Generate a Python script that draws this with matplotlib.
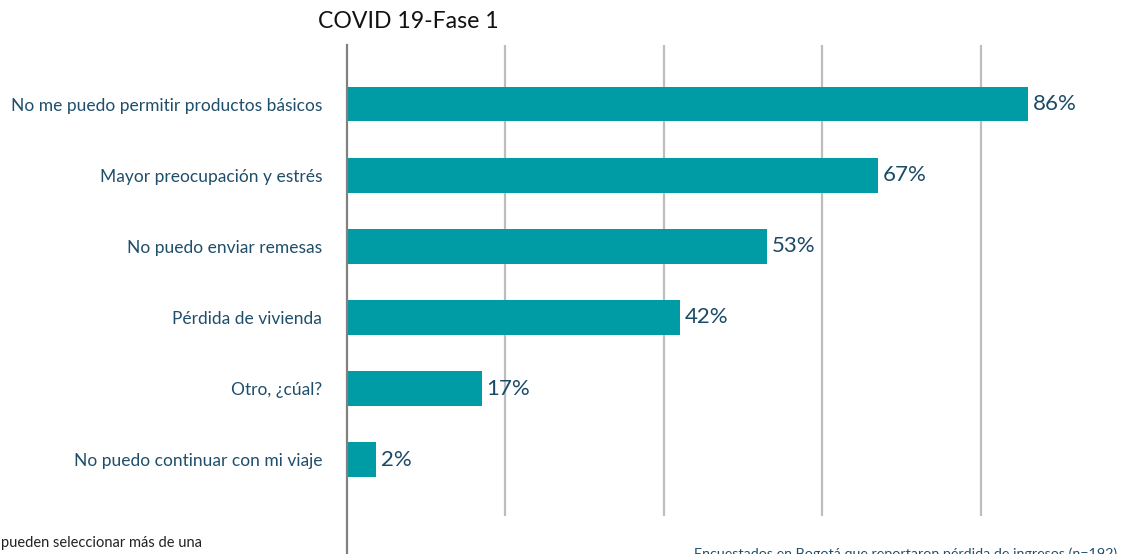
import matplotlib
matplotlib.use("Agg")
import matplotlib.pyplot as plt
from matplotlib.lines import Line2D

categories = ["No me puedo permitir productos básicos",
              "Mayor preocupación y estrés",
              "No puedo enviar remesas",
              "Pérdida de vivienda",
              "Otro, ¿cúal?",
              "No puedo continuar con mi viaje"]
values = [86, 67, 53, 42, 17, 3.7]
value_labels = ["86%", "67%", "53%", "42%", "17%", "2%"]
grid_ticks = [20, 40, 60, 80]

W, H = 1125, 554
fig = plt.figure(figsize=(W / 100, H / 100), dpi=100)
plt.rcParams['font.family'] = ['Lato', 'DejaVu Sans']

ax = fig.add_axes([347 / W, 1 - 516 / H, 792 / W, (516 - 45) / H])
ypos = list(range(len(categories)))
ax.barh(ypos, values, height=0.49, color="#009CA6", zorder=3)
ax.set_xlim(0, 100)
ax.set_ylim(len(categories) - 1 + 0.79, -0.83)
for g in grid_ticks:
    ax.axvline(g, color="#BDBDBD", lw=1.6, zorder=1)
for s in ax.spines.values():
    s.set_visible(False)
ax.set_xticks([])
ax.set_yticks(ypos)
ax.set_yticklabels(categories, fontsize=12.5, color="#1F4E6B")
ax.tick_params(axis="y", length=0, pad=18)

txtc = "#1B4A66"
for y, v, lab in zip(ypos, values, value_labels):
    ax.text(v + 0.6, y, lab, va="center", ha="left", fontsize=16, color=txtc, zorder=4)

# left axis line extending to the bottom
fig.add_artist(Line2D([347 / W, 347 / W], [0, 1 - 45 / H], color="#808080", lw=1.6,
                      transform=fig.transFigure))

fig.text(408 / W, 1 - 22 / H, "COVID 19-Fase 1", ha="center", va="center",
         fontsize=16.6, color="#111111")
fig.text(1 / W, 1 - 543 / H, "pueden seleccionar más de una", ha="left", va="center",
         fontsize=10.5, color="#222222")
fig.text(694 / W, 1 - 558 / H, "Encuestados en Bogotá que reportaron pérdida de ingresos (n=192)",
         ha="left", va="baseline", fontsize=10.3, color="#1F4E6B")

fig.savefig("out.png", dpi=100)
